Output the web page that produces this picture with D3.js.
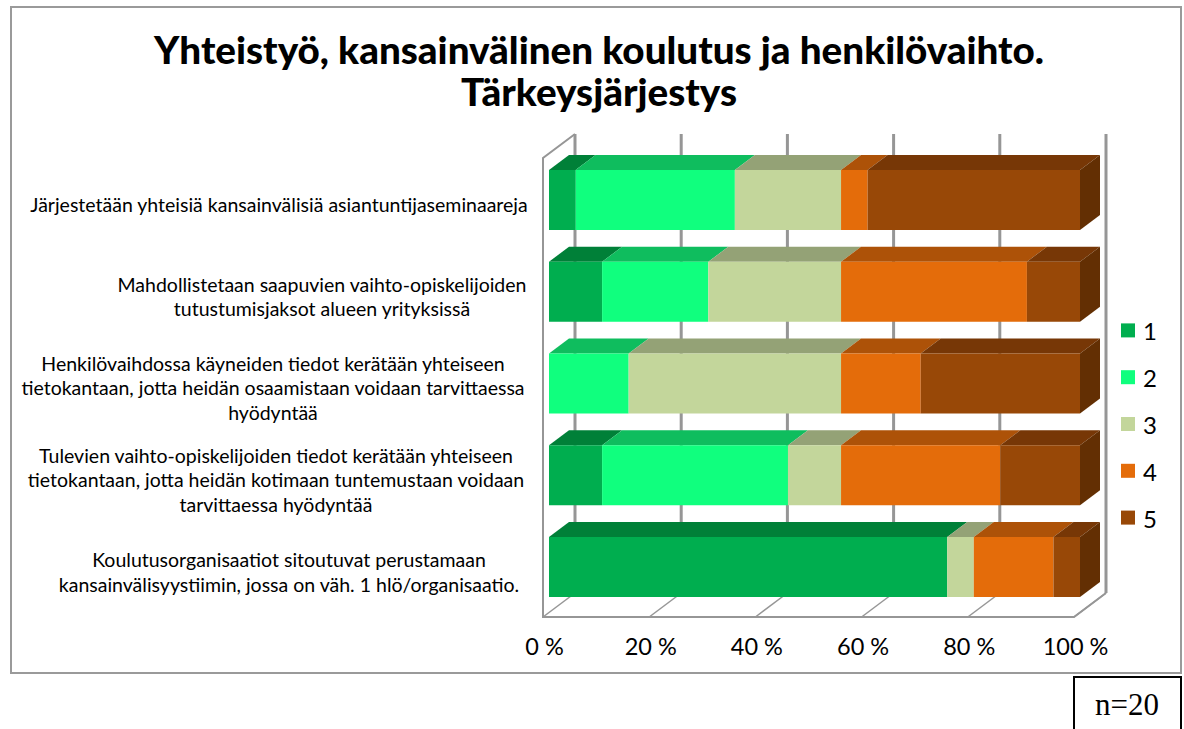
<!DOCTYPE html>
<html>
<head>
<meta charset="utf-8">
<script src="https://cdn.jsdelivr.net/npm/d3@7"></script>
<style>
  html, body { margin: 0; padding: 0; background: #fff; }
  text { fill: #000; font-family: Lato, "Open Sans", sans-serif; }
</style>
</head>
<body>
<div id="chart"></div>
<script>
// data
const categories = [
  'Järjestetään yhteisiä kansainvälisiä asiantuntijaseminaareja',
  'Mahdollistetaan saapuvien vaihto-opiskelijoiden tutustumisjaksot alueen yrityksissä',
  'Henkilövaihdossa käyneiden tiedot kerätään yhteiseen tietokantaan, jotta heidän osaamistaan voidaan tarvittaessa hyödyntää',
  'Tulevien vaihto-opiskelijoiden tiedot kerätään yhteiseen tietokantaan, jotta heidän kotimaan tuntemustaan voidaan tarvittaessa hyödyntää',
  'Koulutusorganisaatiot sitoutuvat perustamaan kansainvälisyystiimin, jossa on väh. 1 hlö/organisaatio.'
];
const categoryLines = [
  ['Järjestetään yhteisiä kansainvälisiä asiantuntijaseminaareja'],
  ['Mahdollistetaan saapuvien vaihto-opiskelijoiden', 'tutustumisjaksot alueen yrityksissä'],
  ['Henkilövaihdossa käyneiden tiedot kerätään yhteiseen', 'tietokantaan, jotta heidän osaamistaan voidaan tarvittaessa', 'hyödyntää'],
  ['Tulevien vaihto-opiskelijoiden tiedot kerätään yhteiseen', 'tietokantaan, jotta heidän kotimaan tuntemustaan voidaan', 'tarvittaessa hyödyntää'],
  ['Koulutusorganisaatiot sitoutuvat perustamaan', 'kansainvälisyystiimin, jossa on väh. 1 hlö/organisaatio.']
];
const seriesNames = ['1', '2', '3', '4', '5'];
const series1 = [5, 10, 0, 10, 75];
const series2 = [30, 20, 15, 35, 0];
const series3 = [20, 25, 40, 10, 5];
const series4 = [5, 35, 15, 30, 15];
const series5 = [40, 10, 30, 15, 5];
const xTicks = [0, 20, 40, 60, 80, 100];
const titleLines = ['Yhteistyö, kansainvälinen koulutus ja henkilövaihto.', 'Tärkeysjärjestys'];

const width = 1184;
const height = 729;
const frontColors = ['#00ae4f', '#10ff7e', '#c3d69b', '#e46c0a', '#984807'];
const topColors = ['#008038', '#0fbd5e', '#94a276', '#ad5208', '#773706'];
const sideColors = ['#006b30', '#0c9a4d', '#7a8761', '#8a4206', '#632f03'];
const wallColor = '#969696';
// depth of the 3d box
const depthX = 20;
const depthY = -15;

const svg = d3.select('#chart').append('svg')
  .attr('width', width)
  .attr('height', height)
  .style('display', 'block');

// chart frame
svg.append('rect')
  .attr('x', 11).attr('y', 7)
  .attr('width', 1170).attr('height', 666)
  .attr('fill', '#fff')
  .attr('stroke', '#9a9a9a')
  .attr('stroke-width', 2);

// title
svg.append('g').selectAll('text')
  .data(titleLines)
  .join('text')
  .attr('x', 599)
  .attr('y', function (d, i) { return 64 + i * 42; })
  .attr('text-anchor', 'middle')
  .style('font-size', '38.6px')
  .style('font-weight', 900)
  .text(function (d) { return d; });

// scales
const xBar = d3.scaleLinear().domain([0, 100]).range([549, 1080]);
const xFloor = d3.scaleLinear().domain([0, 100]).range([543, 1074]);
const xBack = d3.scaleLinear().domain([0, 100]).range([575, 1106]);
const yBand = d3.scaleBand().domain(d3.range(categories.length)).range([155, 613.75]);

// walls
const wallTop = 134;
const wallBottom = 593;
const floorY = 617;
const walls = svg.append('g')
  .attr('fill', 'none')
  .attr('stroke', wallColor)
  .attr('stroke-width', 2);
walls.selectAll('.grid')
  .data(xTicks)
  .join('line')
  .attr('class', 'grid')
  .attr('x1', function (d) { return xBack(d); })
  .attr('x2', function (d) { return xBack(d); })
  .attr('y1', wallTop)
  .attr('y2', wallBottom)
  .attr('stroke-width', 3);
walls.selectAll('.floor')
  .data(xTicks)
  .join('line')
  .attr('class', 'floor')
  .attr('x1', function (d) { return xFloor(d); })
  .attr('x2', function (d) { return xBack(d); })
  .attr('y1', floorY)
  .attr('y2', wallBottom)
  .attr('stroke-width', 1.5);
walls.append('path')
  .attr('d', d3.line()([[xBack(0), wallTop], [xFloor(0), wallTop + (floorY - wallBottom)], [xFloor(0), floorY], [xFloor(100), floorY], [xBack(100), wallBottom]]));

// stacked bars
const rows = categories.map(function (c, i) {
  return { '1': series1[i], '2': series2[i], '3': series3[i], '4': series4[i], '5': series5[i], row: i };
});
const stacked = d3.stack().keys(seriesNames)(rows);
const barTop = function (i) { return yBand(i) + 15; };
const barHeight = 60;

const layers = svg.append('g').selectAll('g')
  .data(stacked)
  .join('g');

layers.each(function (layer, s) {
  const g = d3.select(this);
  const parts = layer.filter(function (d) { return d[1] > d[0]; });
  // top face
  g.selectAll('.top').data(parts).join('polygon')
    .attr('class', 'top')
    .attr('fill', topColors[s])
    .attr('points', function (d) {
      const y = barTop(d.data.row);
      return [[xBar(d[0]), y], [xBar(d[0]) + depthX, y + depthY], [xBar(d[1]) + depthX, y + depthY], [xBar(d[1]), y]].join(' ');
    });
  // front face
  g.selectAll('.front').data(parts).join('rect')
    .attr('class', 'front')
    .attr('fill', frontColors[s])
    .attr('x', function (d) { return xBar(d[0]); })
    .attr('y', function (d) { return barTop(d.data.row); })
    .attr('width', function (d) { return xBar(d[1]) - xBar(d[0]); })
    .attr('height', barHeight);
  // right end
  g.selectAll('.side').data(parts.filter(function (d) { return d[1] === 100; })).join('polygon')
    .attr('class', 'side')
    .attr('fill', sideColors[s])
    .attr('points', function (d) {
      const y = barTop(d.data.row);
      const x = xBar(d[1]);
      return [[x, y], [x + depthX, y + depthY], [x + depthX, y + depthY + barHeight], [x, y + barHeight]].join(' ');
    });
});

// x axis
const axis = svg.append('g')
  .attr('transform', 'translate(1,' + floorY + ')')
  .call(d3.axisBottom(xFloor).tickValues(xTicks).tickSize(0).tickPadding(21).tickFormat(function (d) { return d + ' %'; }));
axis.select('.domain').remove();
axis.selectAll('text').style('font-size', '23.5px').style('font-family', 'Lato, sans-serif').attr('fill', '#000');

// category labels
const labelX = [279, 322, 273, 276, 289];
const labelY = [212, 304, 395, 487, 579.5];
const labels = svg.append('g').selectAll('g')
  .data(categoryLines)
  .join('g');
labels.each(function (lines, i) {
  d3.select(this).selectAll('text')
    .data(lines)
    .join('text')
    .attr('x', labelX[i])
    .attr('y', function (d, j) { return labelY[i] + (j - (lines.length - 1) / 2) * 24.5; })
    .attr('text-anchor', 'middle')
    .style('font-size', '19.5px')
    .text(function (d) { return d; });
});

// legend
const yLegend = d3.scaleBand().domain(seriesNames).range([307, 541]);
const legend = svg.append('g').selectAll('g')
  .data(seriesNames)
  .join('g')
  .attr('transform', function (d) { return 'translate(1121,' + (yLegend(d) + yLegend.bandwidth() / 2) + ')'; });
legend.append('rect')
  .attr('x', 0).attr('y', -7)
  .attr('width', 14).attr('height', 14)
  .attr('fill', function (d, i) { return frontColors[i]; });
legend.append('text')
  .attr('x', 22).attr('y', 10)
  .style('font-size', '24px')
  .text(function (d) { return d; });

// n box
svg.append('rect')
  .attr('x', 1074).attr('y', 677)
  .attr('width', 107).attr('height', 60)
  .attr('fill', '#fff')
  .attr('stroke', '#000')
  .attr('stroke-width', 2);
svg.append('text')
  .attr('x', 1127).attr('y', 715)
  .attr('text-anchor', 'middle')
  .style('font-family', '"Liberation Serif", serif')
  .style('font-size', '31px')
  .text('n=20');
</script>
</body>
</html>
